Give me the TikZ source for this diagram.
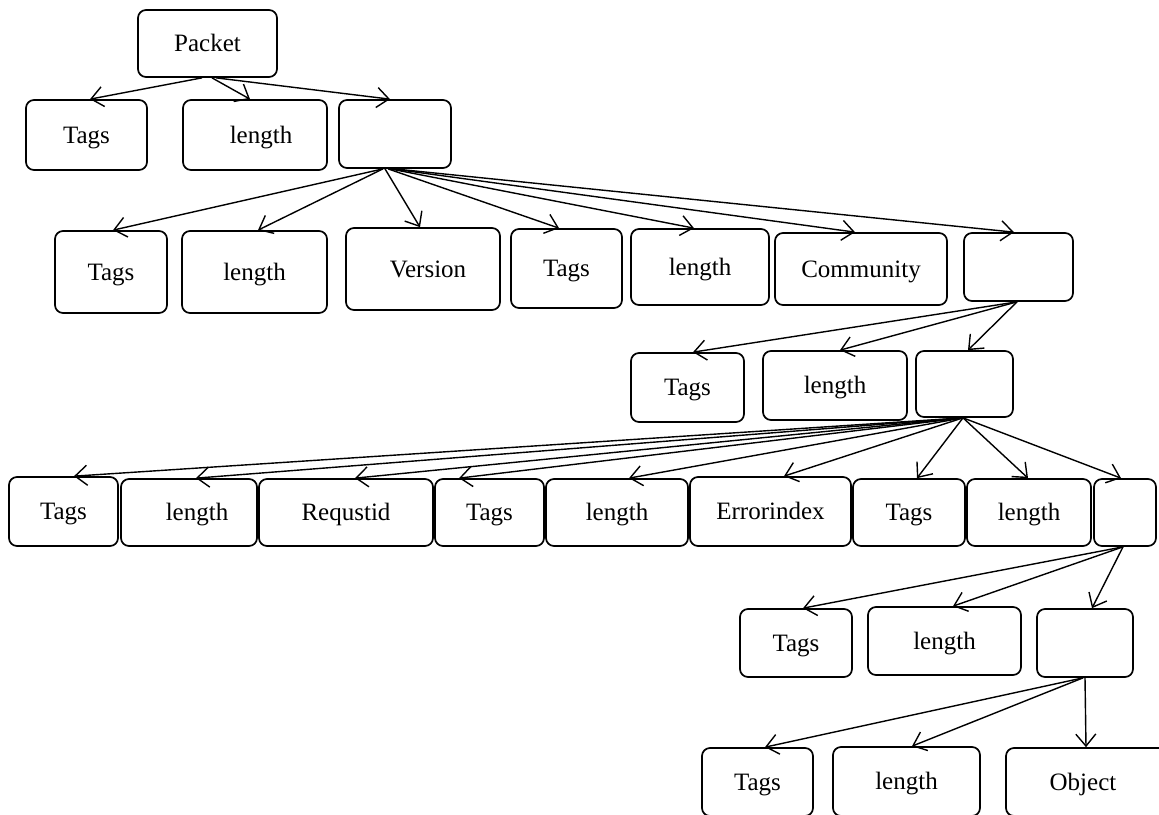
\documentclass[tikz,border=0pt]{standalone}
\usepackage{fontspec}
\setmainfont{Liberation Serif}
\usetikzlibrary{arrows.meta}
\begin{document}
\begin{tikzpicture}[x=1pt,y=-1pt,
  box/.style={draw, line width=1.7pt, rounded corners=8pt, inner sep=0pt, text height=19pt, text depth=3pt, font=\fontsize{25}{30}\selectfont},
  arr/.style={line width=1.4pt, -{Straight Barb[length=12pt,width=20pt,line width=1.4pt]}}]
\newcommand\mybx[6]{\node[box, minimum width={(#3-#2)*1pt}, minimum height={(#5-#4)*1pt}] (#1) at ({(#2+#3)/2},{(#4+#5)/2}) {#6};}
\newcommand\myed[4]{\draw[arr] (#1.south -| #2,0) -- (#3.north -| #4,0);}
\useasboundingbox (0,0) rectangle (1159,814);
\clip (0,0) rectangle (1159,814);
% row 0
\mybx{P}{138}{277}{10}{77}{Packet}
% row 1
\mybx{ta}{26}{147}{100}{170}{Tags}
\mybx{la}{183}{327}{100}{170}{\hspace*{12pt}length}
\mybx{ba}{339}{451}{100}{168}{}
% row 2
\mybx{tb}{55}{167}{231}{313}{Tags}
\mybx{lb}{182}{327}{231}{313}{length}
\mybx{vb}{346}{500}{228}{310}{\hspace*{10pt}Version}
\mybx{tbb}{511}{622}{229}{308}{Tags}
\mybx{lbb}{631}{769}{229}{305}{length}
\mybx{cb}{775}{947}{233}{305}{Community}
\mybx{bb}{964}{1073}{233}{301}{}
% row 3
\mybx{tc}{631}{744}{353}{422}{Tags}
\mybx{lc}{763}{907}{351}{420}{length}
\mybx{bc}{916}{1013}{351}{417}{}
% row 4
\mybx{td}{9}{118}{477}{546}{Tags}
\mybx{ld}{121}{257}{479}{546}{\hspace*{16pt}length}
\mybx{rd}{259}{433}{479}{546}{Requstid}
\mybx{tdd}{435}{544}{479}{546}{Tags}
\mybx{ldd}{546}{688}{479}{546}{length}
\mybx{ed}{690}{851}{477}{546}{Errorindex}
\mybx{tddd}{853}{965}{479}{546}{Tags}
\mybx{lddd}{967}{1091}{479}{546}{length}
\mybx{bd}{1094}{1156}{479}{546}{}
% row 5
\mybx{te}{740}{852}{609}{677}{Tags}
\mybx{le}{868}{1021}{607}{675}{length}
\mybx{be}{1037}{1133}{609}{677}{}
% row 6
\mybx{tf}{702}{813}{748}{816}{Tags}
\mybx{lf}{833}{980}{747}{816}{length}
\mybx{of}{1006}{1172}{748}{816}{\hspace*{-12pt}Object}
% edges
\myed{P}{202}{ta}{90}
\myed{P}{212}{la}{250}
\myed{P}{216}{ba}{390}
\myed{ba}{383}{tb}{113}
\myed{ba}{383}{lb}{258}
\myed{ba}{385}{vb}{420}
\myed{ba}{388}{tbb}{559}
\myed{ba}{390}{lbb}{694}
\myed{ba}{392}{cb}{855}
\myed{ba}{394}{bb}{1014}
\myed{bb}{1017}{tc}{693}
\myed{bb}{1017}{lc}{840}
\myed{bb}{1017}{bc}{968}
\myed{bc}{963}{td}{74}
\myed{bc}{963}{ld}{196}
\myed{bc}{963}{rd}{355}
\myed{bc}{963}{tdd}{459}
\myed{bc}{963}{ldd}{629}
\myed{bc}{963}{ed}{784}
\myed{bc}{963}{tddd}{917}
\myed{bc}{963}{lddd}{1028}
\myed{bc}{963}{bd}{1121}
\myed{bd}{1123}{te}{803}
\myed{bd}{1123}{le}{953}
\myed{bd}{1123}{be}{1092}
\myed{be}{1083}{tf}{765}
\myed{be}{1083}{lf}{912}
\myed{be}{1085}{of}{1086}
\end{tikzpicture}
\end{document}
